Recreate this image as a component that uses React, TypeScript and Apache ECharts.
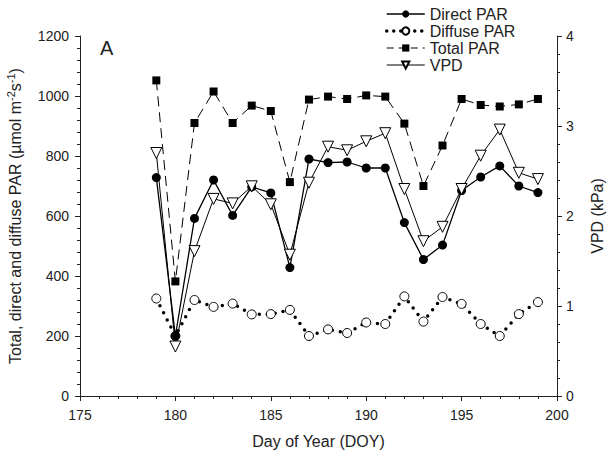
import React, { useEffect, useRef } from "react";
import * as echarts from "echarts";

const days = [179, 180, 181, 182, 183, 184, 185, 186, 187, 188, 189, 190, 191, 192, 193, 194, 195, 196, 197, 198, 199];
const directPAR = [728, 200, 592, 720, 602, 697, 677, 428, 790, 778, 780, 760, 760, 578, 455, 503, 685, 730, 767, 700, 678];
const diffusePAR = [325, 200, 320, 297, 308, 272, 273, 287, 200, 222, 210, 245, 240, 332, 248, 330, 307, 240, 200, 273, 313];
const totalPAR = [1052, 382, 910, 1015, 910, 968, 950, 713, 988, 998, 990, 1002, 998, 908, 700, 835, 990, 970, 965, 972, 990];
const vpd = [2.7, 0.55, 1.61, 2.19, 2.14, 2.33, 2.13, 1.57, 2.37, 2.77, 2.73, 2.83, 2.92, 2.3, 1.72, 1.88, 2.3, 2.67, 2.96, 2.48, 2.41];

const FONT = "'Liberation Sans', Arial, sans-serif";
const INK = "#222";

const pair = (ys: number[]) => days.map((d, i) => [d, ys[i]]);

export default function App() {
  const ref = useRef<HTMLDivElement>(null);
  useEffect(() => {
    if (!ref.current) return;
    const chart = echarts.init(ref.current, undefined, { renderer: "svg" });
    const axisCommon = {
      axisLine: { show: true, lineStyle: { color: INK, width: 1 } },
      axisTick: { show: true, inside: false, length: 5, lineStyle: { color: INK } },
      minorTick: { show: true, splitNumber: 5, length: 3, lineStyle: { color: INK } },
      splitLine: { show: false },
      minorSplitLine: { show: false },
      axisLabel: { color: INK, fontSize: 14, fontFamily: FONT, formatter: (v: number) => String(v) },
      nameTextStyle: { color: INK, fontSize: 16, fontFamily: FONT },
    };
    chart.setOption({
      animation: false,
      textStyle: { fontFamily: FONT },
      grid: { left: 80, right: 57, top: 36, bottom: 54, outerBoundsMode: "none", containLabel: false },
      legend: {
        orient: "vertical",
        left: 380,
        top: 1,
        itemWidth: 38,
        itemHeight: 9,
        itemGap: 1,
        textStyle: { color: INK, fontSize: 16, fontFamily: FONT, lineHeight: 16 },
        data: [
          { name: "Direct PAR", lineStyle: { width: 1.3, color: "#000" } },
          { name: "Diffuse PAR", lineStyle: { width: 3.5, type: [0, 7], cap: "round", color: "#000" } },
          { name: "Total PAR", lineStyle: { width: 1, type: [7, 5], color: "#000" } },
          { name: "VPD", lineStyle: { width: 1, color: "#000" } },
        ],
      },
      xAxis: {
        type: "value",
        min: 175,
        max: 200,
        interval: 5,
        name: "Day of Year (DOY)",
        nameLocation: "middle",
        nameGap: 37,
        ...axisCommon,
        axisLabel: { ...axisCommon.axisLabel, margin: 12 },
      },
      yAxis: [
        {
          type: "value",
          min: 0,
          max: 1200,
          interval: 200,
          name: "Total, direct and diffuse PAR (µmol m{sup|-2}s{sup|-1})",
          nameLocation: "middle",
          nameGap: 55,
          ...axisCommon,
          axisLabel: { ...axisCommon.axisLabel, margin: 11 },
          nameTextStyle: {
            ...axisCommon.nameTextStyle,
            rich: {
              sup: { fontSize: 11, fontFamily: FONT, color: INK, verticalAlign: "bottom", padding: [0, 0, 9, 0] },
            },
          },
        },
        {
          type: "value",
          min: 0,
          max: 4,
          interval: 1,
          position: "right",
          name: "VPD (kPa)",
          nameLocation: "middle",
          nameGap: 32,
          nameRotate: 90,
          ...axisCommon,
          axisLabel: { ...axisCommon.axisLabel, margin: 9 },
        },
      ],
      graphic: [
        { type: "text", left: 100, top: 38, style: { text: "A", fontSize: 20, fontFamily: FONT, fill: INK } },
      ],
      series: [
        {
          name: "Diffuse PAR",
          type: "line",
          data: pair(diffusePAR),
          symbol: "circle",
          symbolSize: 9,
          itemStyle: { color: "#fff", borderColor: "#000", borderWidth: 1 },
          lineStyle: { color: "#000", width: 3.5, type: [0, 8], cap: "round" },
          z: 2,
        },
        {
          name: "Total PAR",
          type: "line",
          data: pair(totalPAR),
          symbol: "rect",
          symbolSize: 8,
          itemStyle: { color: "#000" },
          lineStyle: { color: "#000", width: 1, type: [10, 6] },
          z: 3,
        },
        {
          name: "Direct PAR",
          type: "line",
          data: pair(directPAR),
          symbol: "circle",
          symbolSize: 9,
          itemStyle: { color: "#000" },
          lineStyle: { color: "#000", width: 1.3 },
          z: 4,
        },
        {
          name: "VPD",
          type: "line",
          yAxisIndex: 1,
          data: pair(vpd),
          symbol: "triangle",
          symbolRotate: 180,
          symbolSize: 11,
          itemStyle: { color: "#fff", borderColor: "#000", borderWidth: 1 },
          lineStyle: { color: "#000", width: 1 },
          z: 5,
        },
      ],
    });
    return () => chart.dispose();
  }, []);
  return <div ref={ref} style={{ width: 614, height: 450, position: "absolute", left: 0, top: 0 }} />;
}
